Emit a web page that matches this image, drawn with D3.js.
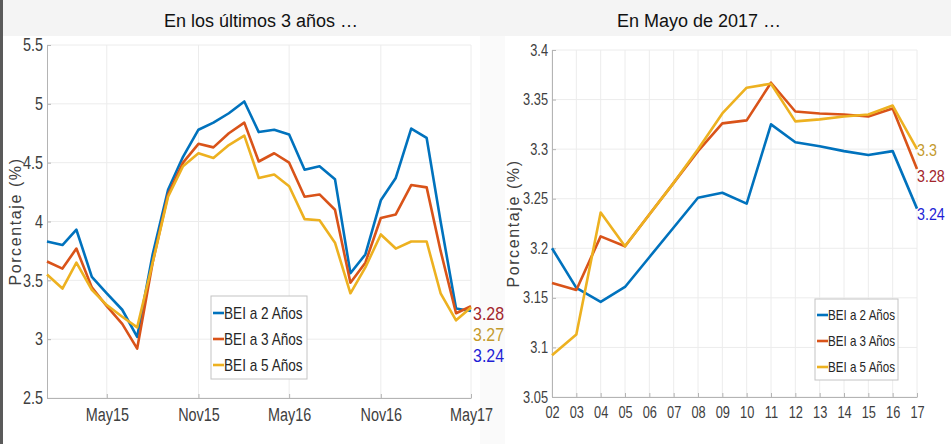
<!DOCTYPE html>
<html>
<head>
<meta charset="utf-8">
<script src="https://cdn.jsdelivr.net/npm/d3@7"></script>
<style>
  html, body { margin: 0; padding: 0; background: #ffffff; }
  svg { display: block; }
  .tick text { font-family: "Liberation Sans", Arial, sans-serif; fill: #404040; }
</style>
</head>
<body>
<svg id="chart" width="951" height="444"></svg>
<script>
// ---- Series: monthly breakeven inflation (BEI), Jan 2015 – May 2017 ----
const months = [
  "2015-01","2015-02","2015-03","2015-04","2015-05","2015-06","2015-07","2015-08","2015-09","2015-10","2015-11","2015-12",
  "2016-01","2016-02","2016-03","2016-04","2016-05","2016-06","2016-07","2016-08","2016-09","2016-10","2016-11","2016-12",
  "2017-01","2017-02","2017-03","2017-04","2017-05"
];
const bei2y = [3.83,3.80,3.93,3.53,3.39,3.25,3.02,3.72,4.27,4.55,4.78,4.84,
               4.92,5.02,4.76,4.78,4.74,4.44,4.47,4.36,3.56,3.72,4.18,4.37,
               4.79,4.71,4.00,3.26,3.24];
const bei3y = [3.66,3.60,3.77,3.44,3.28,3.13,2.92,3.65,4.23,4.50,4.66,4.63,
               4.75,4.84,4.51,4.58,4.50,4.21,4.23,4.10,3.48,3.65,4.03,4.06,
               4.31,4.29,3.75,3.22,3.28];
const bei5y = [3.55,3.43,3.65,3.42,3.29,3.19,3.10,3.65,4.21,4.47,4.58,4.54,
               4.65,4.73,4.37,4.40,4.30,4.02,4.01,3.82,3.39,3.61,3.89,3.77,
               3.83,3.83,3.39,3.16,3.27];
const monthTicks = ["2015-05","2015-11","2016-05","2016-11","2017-05"];
const leftYTicks = [2.5,3,3.5,4,4.5,5,5.5];

// ---- Series: daily BEI, May 2017 ----
const days = ["02","03","04","05","06","07","08","09","10","11","12","13","14","15","16","17"];
const may2y = [3.200,3.160,3.146,3.161,3.191,3.221,3.251,3.256,3.245,3.325,3.307,3.303,3.298,3.294,3.298,3.240];
const may3y = [3.165,3.158,3.212,3.202,3.234,3.266,3.298,3.326,3.329,3.367,3.338,3.336,3.335,3.333,3.341,3.280];
const may5y = [3.092,3.113,3.236,3.202,3.234,3.266,3.300,3.336,3.362,3.366,3.328,3.330,3.333,3.335,3.344,3.300];
const rightYTicks = [3.05,3.1,3.15,3.2,3.25,3.3,3.35,3.4];

const seriesNames = ["BEI a 2 Años","BEI a 3 Años","BEI a 5 Años"];
const titles = ["En los últimos 3 años …","En Mayo de 2017 …"];
const yTitle = "Porcentaje (%)";

const colors = ["#0072BD","#D95319","#EDB120"];
const labelColors = ["#1f1fd6","#a3262c","#c49a2c"];

const SANS = '"Liberation Sans", Arial, sans-serif';

const svg = d3.select("#chart");

// squeeze text horizontally to a narrow face
function condense(sel, k) {
  sel.each(function () {
    const w = this.getComputedTextLength();
    d3.select(this).attr("textLength", w * k).attr("lengthAdjust", "spacingAndGlyphs");
  });
}

// page backdrop: light band on top, white panels below
svg.append("rect").attr("x",0).attr("y",0).attr("width",951).attr("height",444).attr("fill","#f4f4f4");
svg.append("rect").attr("x",3).attr("y",36).attr("width",477).attr("height",408).attr("fill","#ffffff");
svg.append("rect").attr("x",480).attr("y",36).attr("width",25).attr("height",408).attr("fill","#fafafa");
svg.append("rect").attr("x",505).attr("y",36).attr("width",446).attr("height",408).attr("fill","#ffffff");
svg.append("rect").attr("x",0).attr("y",0).attr("width",3).attr("height",444).attr("fill","#5a5a5a");

function drawPanel(cfg) {
  const g = svg.append("g");
  const x = cfg.x, y = cfg.y;
  const [x0, x1] = x.range();
  const [yb, yt] = y.range();

  // gridlines
  g.append("g").selectAll("line").data(cfg.yTicks).join("line")
    .attr("x1", x0).attr("x2", x1)
    .attr("y1", d => y(d)).attr("y2", d => y(d))
    .attr("stroke", "#ececec").attr("stroke-width", 1);
  g.append("g").selectAll("line").data(cfg.xTickVals).join("line")
    .attr("x1", d => x(d)).attr("x2", d => x(d))
    .attr("y1", yt).attr("y2", yb)
    .attr("stroke", "#ececec").attr("stroke-width", 1);

  // axes
  const yAxis = d3.axisLeft(y).tickValues(cfg.yTicks).tickFormat(d => String(+d.toFixed(2)))
    .tickSizeInner(-4).tickSizeOuter(0).tickPadding(4);
  const ya = g.append("g").attr("transform", `translate(${x0},0)`).call(yAxis);
  ya.select(".domain").attr("stroke", "#b4b4b4");
  ya.selectAll(".tick line").attr("stroke", "#b4b4b4");
  ya.selectAll(".tick text").style("font-size", cfg.tickFont + "px").attr("fill", "#404040")
    .call(condense, 0.8);

  const xAxis = d3.axisBottom(x).tickValues(cfg.xTickVals).tickFormat(cfg.xFormat)
    .tickSizeInner(-4).tickSizeOuter(0).tickPadding(10);
  const xa = g.append("g").attr("transform", `translate(0,${yb})`).call(xAxis);
  xa.select(".domain").attr("stroke", "#b4b4b4");
  xa.selectAll(".tick line").attr("stroke", "#b4b4b4");
  xa.selectAll(".tick text").style("font-size", cfg.tickFont + "px").attr("fill", "#404040")
    .call(condense, 0.8);

  // y title
  g.append("text")
    .attr("transform", `translate(${cfg.yTitleX},${(yt + yb) / 2}) rotate(-90)`)
    .attr("text-anchor", "middle")
    .attr("font-family", SANS).attr("font-size", 16).attr("letter-spacing", 1.6)
    .attr("fill", "#404040")
    .text(yTitle);

  // lines
  const line = d3.line().x(d => x(d[0])).y(d => y(d[1]));
  cfg.series.forEach((vals, i) => {
    g.append("path")
      .datum(cfg.keys.map((k, j) => [k, vals[j]]))
      .attr("fill", "none").attr("stroke", colors[i])
      .attr("stroke-width", 2.6).attr("stroke-linejoin", "round")
      .attr("d", line);
  });

  // end-value labels
  cfg.endLabels.forEach(l => {
    g.append("text")
      .attr("x", cfg.endX).attr("y", l.y)
      .attr("font-family", SANS).attr("font-size", cfg.endFont)
      .attr("fill", labelColors[l.i])
      .text(String(cfg.series[l.i][cfg.series[l.i].length - 1]))
      .call(condense, 0.84);
  });

  // legend
  const L = cfg.legend;
  const lg = g.append("g").attr("transform", `translate(${L.x},${L.y})`);
  lg.append("rect").attr("width", L.w).attr("height", L.h)
    .attr("fill", "#ffffff").attr("stroke", "#c4c4c4").attr("stroke-width", 1);
  seriesNames.forEach((n, i) => {
    const cy = L.first + i * L.step;
    lg.append("line").attr("x1", 2).attr("x2", 13).attr("y1", cy).attr("y2", cy)
      .attr("stroke", colors[i]).attr("stroke-width", 2.6);
    lg.append("text").attr("x", 13).attr("y", cy).attr("dy", "0.36em")
      .attr("font-family", SANS).attr("font-size", L.font).attr("fill", "#262626")
      .text(n)
      .call(condense, 0.8);
  });

  // title
  svg.append("text").attr("x", cfg.titleX).attr("y", 27)
    .attr("text-anchor", "middle").attr("font-family", SANS).attr("font-size", 18)
    .attr("fill", "#111111").text(cfg.title);
}

// ---- Left panel ----
const parseM = d3.timeParse("%Y-%m");
const monthDates = months.map(parseM);
const xL = d3.scaleTime().domain([monthDates[0], monthDates[monthDates.length - 1]]).range([47, 471]);
const yL = d3.scaleLinear().domain([2.5, 5.5]).range([398, 45]);
drawPanel({
  x: xL, y: yL, keys: monthDates,
  series: [bei2y, bei3y, bei5y],
  yTicks: leftYTicks,
  xTickVals: monthTicks.map(parseM),
  xFormat: d3.timeFormat("%b%y"),
  tickFont: 18,
  yTitleX: 21,
  endX: 473, endFont: 19,
  endLabels: [{ i: 1, y: 320 }, { i: 2, y: 341 }, { i: 0, y: 362 }],
  legend: { x: 211, y: 296, w: 96, h: 83, first: 17, step: 26, font: 17 },
  title: titles[0], titleX: 261
});

// ---- Right panel ----
const xR = d3.scaleLinear().domain([2, 17]).range([552, 917]);
const yR = d3.scaleLinear().domain([3.05, 3.4]).range([397, 50]);
const dayNums = days.map(Number);
drawPanel({
  x: xR, y: yR, keys: dayNums,
  series: [may2y, may3y, may5y],
  yTicks: rightYTicks,
  xTickVals: dayNums,
  xFormat: d => days[dayNums.indexOf(d)],
  tickFont: 16,
  yTitleX: 519,
  endX: 917, endFont: 17,
  endLabels: [{ i: 2, y: 156 }, { i: 1, y: 182 }, { i: 0, y: 220 }],
  legend: { x: 815, y: 299, w: 83, h: 81, first: 16, step: 26, font: 14.5 },
  title: titles[1], titleX: 699
});
</script>
</body>
</html>
